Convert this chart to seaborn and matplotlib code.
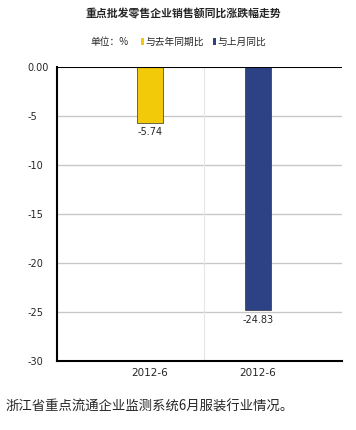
import matplotlib
matplotlib.use("Agg")
import matplotlib.pyplot as plt
from matplotlib.patches import Patch
import pandas as pd
import seaborn as sns

# 数据
series = ["与去年同期比", "与上月同比"]
values = [-5.74, -24.83]
x_labels = ["2012-6", "2012-6"]
y_ticks = [0, -5, -10, -15, -20, -25, -30]
y_tick_labels = ["0.00", "-5", "-10", "-15", "-20", "-25", "-30"]
colors = ["#F2CA0A", "#2D4284"]

sns.set_theme(style="white")
plt.rcParams["font.family"] = ["Noto Sans CJK SC", "DejaVu Sans"]
plt.rcParams["axes.unicode_minus"] = False

df = pd.DataFrame({"series": series, "value": values})

fig = plt.figure(figsize=(3.56, 4.30), dpi=100)
ax = fig.add_axes([0.160, 0.1605, 0.801, 0.6835])

sns.barplot(data=df, x="series", y="value", hue="series", order=series,
            hue_order=series, palette=colors, saturation=1, dodge=False,
            width=0.24, edgecolor="#333333", linewidth=0.5, legend=False,
            ax=ax)

for c in ax.containers:
    ax.bar_label(c, fmt="%.2f", padding=3, fontsize=7, family="DejaVu Sans")

ax.set_xlim(-0.86, 1.78)
ax.set_ylim(-30, 0)
ax.set_yticks(y_ticks)
ax.set_yticklabels(y_tick_labels, fontsize=7, family="DejaVu Sans", ha="left")
ax.tick_params(axis="y", length=0, pad=21)
ax.set_xticks([0, 1])
ax.set_xticklabels(x_labels, fontsize=7.5, family="DejaVu Sans")
ax.tick_params(axis="x", length=0, pad=5)
ax.set_xlabel("")
ax.set_ylabel("")

# 网格
for y in y_ticks[1:-1]:
    ax.axhline(y, color="#c8c8c8", lw=1.0, zorder=0)
ax.axvline(0.5, color="#e6e6e6", lw=0.8, zorder=0)
ax.axhline(0, color="black", lw=1.5, zorder=3)

for s in ["top", "right"]:
    ax.spines[s].set_visible(False)
ax.spines["left"].set_color("black")
ax.spines["left"].set_linewidth(1.5)
ax.spines["bottom"].set_color("black")
ax.spines["bottom"].set_linewidth(1.5)

fig.text(0.515, 0.968, "重点批发零售企业销售额同比涨跌幅走势", ha="center",
         va="center", fontsize=7.8, fontweight="bold")
fig.text(0.253, 0.902, "单位：%", ha="left", va="center", fontsize=7)
handles = [Patch(facecolor=c, edgecolor="none") for c in colors]
fig.legend(handles, series, loc="center left", bbox_to_anchor=(0.395, 0.902),
           ncol=2, frameon=False, fontsize=7, handlelength=0.35,
           handleheight=0.7, handletextpad=0.15, columnspacing=0.9,
           borderpad=0, borderaxespad=0)

fig.text(0.014, 0.053, "浙江省重点流通企业监测系统6月服装行业情况。",
         ha="left", va="center", fontsize=9.6)

fig.savefig("out.png", dpi=100)
